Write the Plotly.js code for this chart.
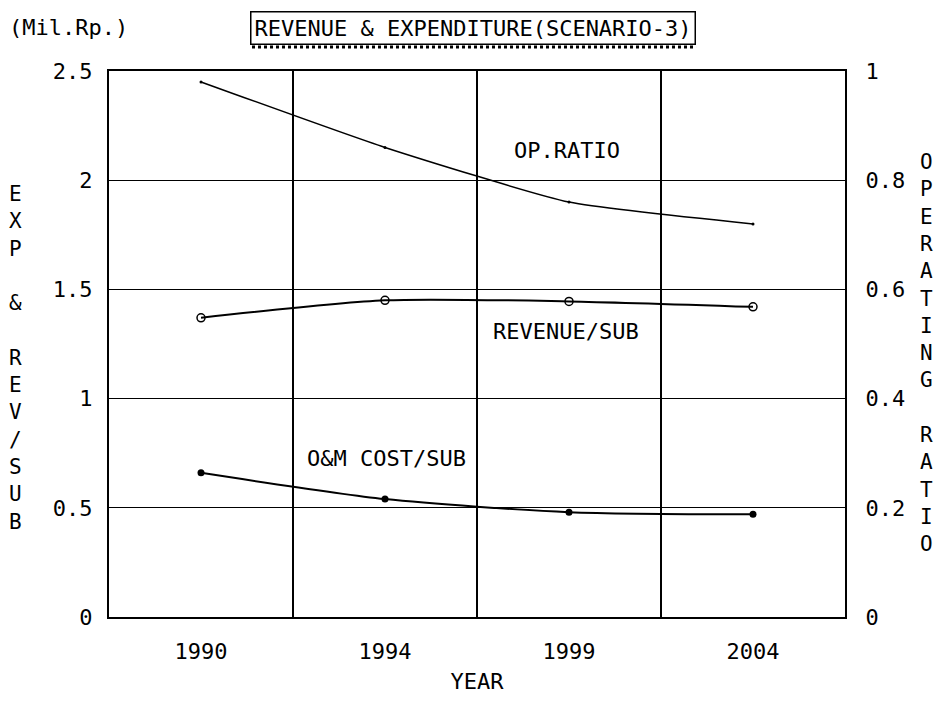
<!DOCTYPE html>
<html>
<head>
<meta charset="utf-8">
<script src="https://cdn.plot.ly/plotly-3.0.1.min.js"></script>
<style>
html,body{margin:0;padding:0;background:#fff;}
#chart{width:951px;height:707px;}
</style>
</head>
<body>
<div id="chart"></div>
<script>
// ---- data ----
var years = ['1990', '1994', '1999', '2004'];
var opRatio = [0.98, 0.86, 0.76, 0.72];          // right axis
var revenuePerSub = [1.37, 1.45, 1.445, 1.42];   // left axis (Mil.Rp.)
var omCostPerSub = [0.66, 0.54, 0.48, 0.47];     // left axis (Mil.Rp.)
var leftTicks = [0, 0.5, 1, 1.5, 2, 2.5];
var rightTicks = [0, 0.2, 0.4, 0.6, 0.8, 1];

var FONT = 'DejaVu Sans Mono, Liberation Mono, monospace';
var FS = 22;

function stack(s) { return s.split('').join('<br>'); }

var traces = [
  {
    x: years, y: opRatio, yaxis: 'y2', type: 'scatter', mode: 'lines+markers',
    line: { color: '#000', width: 1.5, shape: 'spline', smoothing: 0.5 },
    marker: { size: 3, color: '#000' }, name: 'OP.RATIO'
  },
  {
    x: years, y: revenuePerSub, type: 'scatter', mode: 'lines+markers',
    line: { color: '#000', width: 2, shape: 'spline', smoothing: 0.7 },
    marker: { symbol: 'circle-open', size: 8, color: '#000', line: { width: 1.5 } },
    name: 'REVENUE/SUB'
  },
  {
    x: years, y: omCostPerSub, type: 'scatter', mode: 'lines+markers',
    line: { color: '#000', width: 2, shape: 'spline', smoothing: 0.7 },
    marker: { symbol: 'circle', size: 7, color: '#000' }, name: 'O&M COST/SUB'
  }
];

function txt(x, y, t, anchorX, size) {
  return {
    xref: 'paper', yref: 'paper', x: x, y: y, xanchor: anchorX || 'center', yanchor: 'middle',
    text: t, showarrow: false, font: { family: FONT, size: size || FS, color: '#000' }
  };
}

var layout = {
  width: 951, height: 707,
  margin: { l: 109, r: 106, t: 71, b: 90, pad: 0 },
  paper_bgcolor: '#fff', plot_bgcolor: '#fff',
  showlegend: false,
  font: { family: FONT, size: FS, color: '#000' },
  xaxis: {
    type: 'category', categoryorder: 'array', categoryarray: years,
    range: [-0.5, 3.5], tickson: 'boundaries', ticks: '',
    showgrid: true, gridcolor: '#000', gridwidth: 2,
    showline: true, mirror: true, linecolor: '#000', linewidth: 2,
    zeroline: false, ticklabelstandoff: 14, fixedrange: true,
    title: { text: 'YEAR', font: { family: FONT, size: FS, color: '#000' }, standoff: 10 }
  },
  yaxis: {
    range: [0, 2.5], tickvals: leftTicks, ticks: '',
    showgrid: true, gridcolor: '#000', gridwidth: 1,
    showline: true, mirror: false, linecolor: '#000', linewidth: 2,
    zeroline: false, ticklabelstandoff: 10, fixedrange: true
  },
  yaxis2: {
    range: [0, 1], tickvals: rightTicks, overlaying: 'y', side: 'right', ticks: '',
    showgrid: false, showline: true, linecolor: '#000', linewidth: 2,
    zeroline: false, ticklabelstandoff: 14, fixedrange: true
  },
  shapes: [
    { type: 'line', xref: 'paper', yref: 'paper', x0: 0.1943, x1: 0.7976, y0: 1.044, y1: 1.044,
      line: { color: '#000', width: 3, dash: 'dot' } }
  ],
  annotations: [
    Object.assign(txt(0.4946, 1.0788, 'REVENUE &amp; EXPENDITURE(SCENARIO-3)'),
      { bordercolor: '#000', borderwidth: 1.5, borderpad: 3, bgcolor: '#fff' }),
    txt(-0.1386, 1.0788, '(Mil.Rp.)', 'left'),
    txt(-0.1277, 0.4744, stack('EXP & REV/SUB'), 'center', 21),
    txt(1.1114, 0.4835, stack('OPERATING RATIO'), 'center', 21),
    txt(0.6223, 0.8553, 'OP.RATIO'),
    txt(0.6209, 0.522, 'REVENUE/SUB'),
    txt(0.3777, 0.2912, 'O&amp;M COST/SUB')
  ]
};

Plotly.newPlot('chart', traces, layout, { staticPlot: true, displayModeBar: false });
</script>
</body>
</html>
